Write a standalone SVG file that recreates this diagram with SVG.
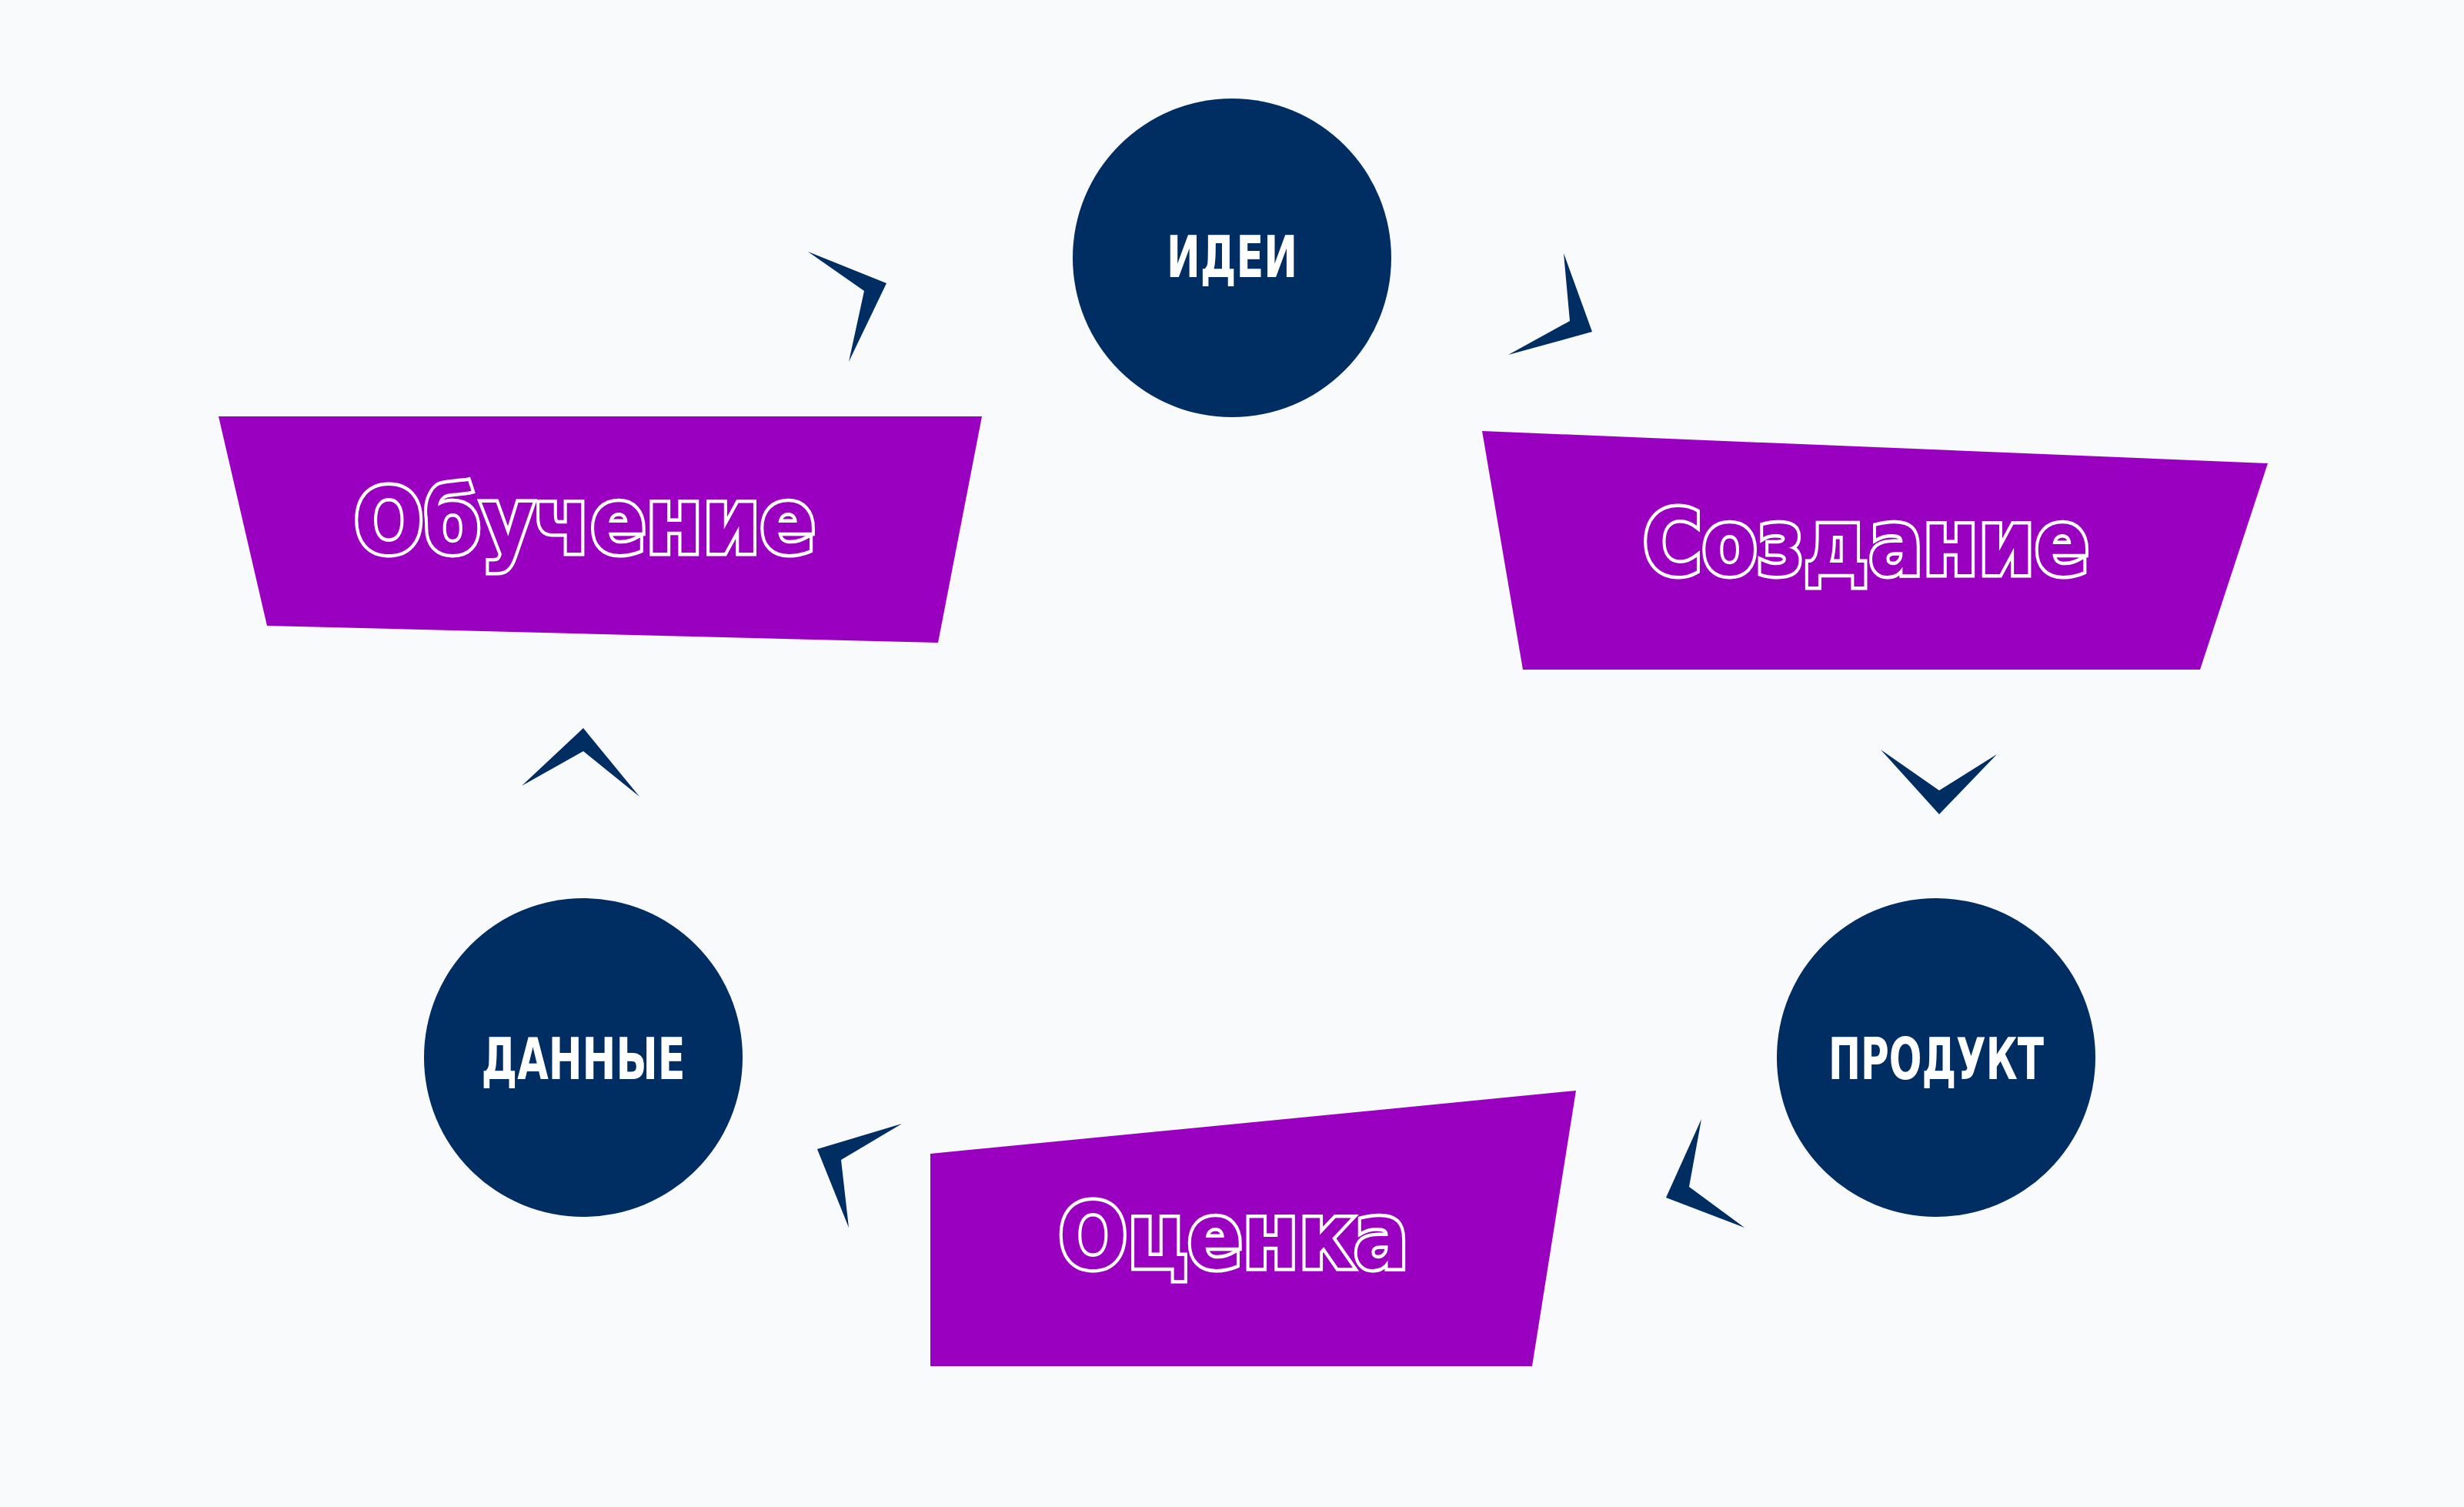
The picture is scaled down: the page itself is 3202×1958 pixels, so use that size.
<svg xmlns="http://www.w3.org/2000/svg" width="3202" height="1958" viewBox="0 0 3202 1958">
<style>
.c{fill:#002d62}
.p{fill:#9a00c0}
.a{fill:#002d62}
.cl{font-family:"Liberation Sans Narrow","DejaVu Sans Condensed",sans-serif;font-weight:bold;font-size:74px;fill:#fff;text-anchor:middle}
.pl{font-family:"DejaVu Sans",sans-serif;font-weight:bold;font-size:118px;fill:#9a00c0;stroke:#fff;stroke-width:9;paint-order:stroke;text-anchor:middle}
</style>
<rect width="3202" height="1958" fill="#f8fafc"/>
<g id="connectors">
<polygon class="a" points="1050,327 1152,368 1103,470 1123,378"/>
<polygon class="a" points="2032,329 2069,431 1960,461 2040,417"/>
<polygon class="a" points="2444,974 2520,1027 2595,980 2520,1058"/>
<polygon class="a" points="2211,1454 2195,1542 2267,1595 2165,1556"/>
<polygon class="a" points="1172,1460 1062,1493 1103,1595 1093,1507"/>
<polygon class="a" points="678,1021 758,946 831,1035 758,976"/>
</g>
<g id="idei"><circle class="c" cx="1601" cy="335" r="207"/><text class="cl" x="1601" y="360" textLength="170" lengthAdjust="spacingAndGlyphs">ИДЕИ</text></g>
<g id="produkt"><circle class="c" cx="2516" cy="1374" r="207"/><text class="cl" x="2516" y="1402" textLength="280" lengthAdjust="spacingAndGlyphs">ПРОДУКТ</text></g>
<g id="dannye"><circle class="c" cx="758" cy="1374" r="207"/><text class="cl" x="758" y="1402" textLength="265" lengthAdjust="spacingAndGlyphs">ДАННЫЕ</text></g>
<g id="obuchenie"><polygon class="p" points="284,541 1276,541 1219,835 347,813"/><text class="pl" x="760" y="718" textLength="600" lengthAdjust="spacingAndGlyphs">Обучение</text></g>
<g id="sozdanie"><polygon class="p" points="1926,560 2947,602 2859,870 1979,870"/><text class="pl" x="2425" y="746" textLength="580" lengthAdjust="spacingAndGlyphs">Создание</text></g>
<g id="otsenka"><polygon class="p" points="1209,1499 2048,1417 1991,1775 1209,1775"/><text class="pl" x="1603" y="1647" textLength="455" lengthAdjust="spacingAndGlyphs">Оценка</text></g>
</svg>
